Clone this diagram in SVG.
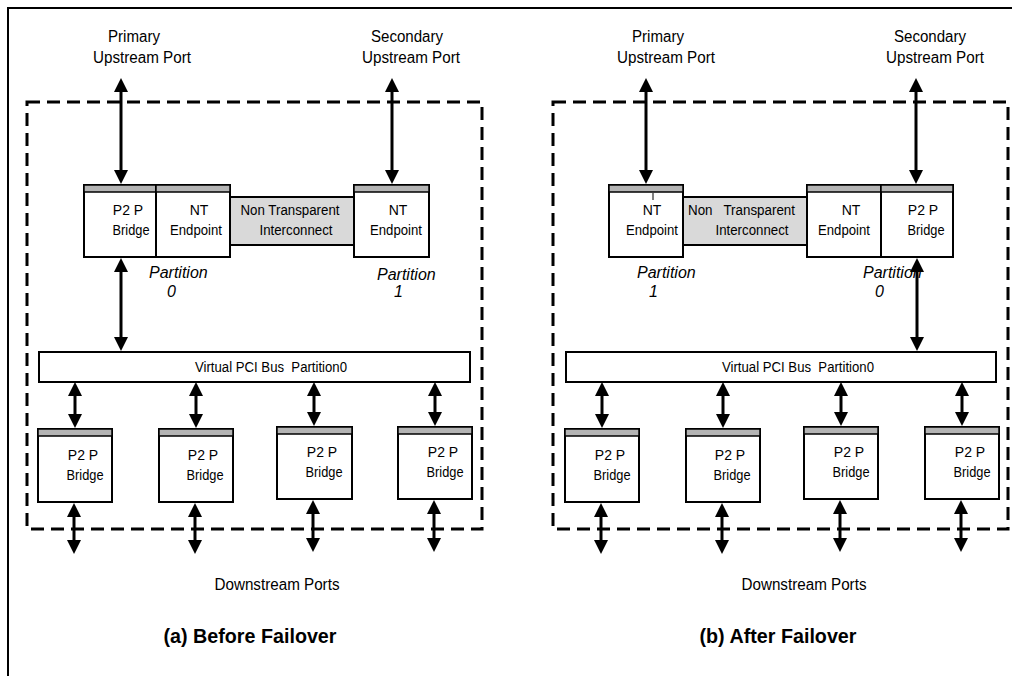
<svg xmlns="http://www.w3.org/2000/svg" width="1016" height="676" viewBox="0 0 1016 676">
<defs>
<marker id="ah" viewBox="0 0 14 14" refX="3" refY="7" markerWidth="14" markerHeight="14" markerUnits="userSpaceOnUse" orient="auto-start-reverse">
<path d="M0,0 L14,7 L0,14 z" fill="#000"/>
</marker>
<style>
.box{fill:#fff;stroke:#000;stroke-width:2}
.hdr{fill:#b4b4b4;stroke:#000;stroke-width:1.5}
.ic{fill:#d9d9d9;stroke:#000;stroke-width:2}
.frame{fill:none;stroke:#000;stroke-width:3;stroke-dasharray:13 7}
.arr{stroke:#000;stroke-width:3;fill:none;marker-start:url(#ah);marker-end:url(#ah)}
text{font-family:"Liberation Sans",Arial,sans-serif;fill:#000}
.t13{font-size:14px;text-anchor:middle}
.t15{font-size:16px;text-anchor:middle}
.it{font-size:16px;font-style:italic}
.ttl{font-size:20px;font-weight:bold;text-anchor:middle}
</style>
</defs>
<rect width="1016" height="676" fill="#fff"/>
<path d="M8,676 V8 H1012" fill="none" stroke="#000" stroke-width="2"/>

<g id="panel-a">
<rect class="frame" x="27" y="102" width="455" height="427"/>
<g id="a-label-primary"><text class="t15" x="134" y="42" textLength="52" lengthAdjust="spacingAndGlyphs">Primary</text><text class="t15" x="142" y="63" textLength="98" lengthAdjust="spacingAndGlyphs">Upstream Port</text></g>
<g id="a-label-secondary"><text class="t15" x="407" y="42" textLength="72" lengthAdjust="spacingAndGlyphs">Secondary</text><text class="t15" x="411" y="63" textLength="98" lengthAdjust="spacingAndGlyphs">Upstream Port</text></g>
<g id="a-p2p"><rect class="box" x="84" y="185" width="72" height="72"/><rect class="hdr" x="84" y="185" width="72" height="7"/><text class="t13" x="128" y="215">P2 P</text><text class="t13" x="131" y="235" textLength="37" lengthAdjust="spacingAndGlyphs">Bridge</text></g>
<g id="a-nt0"><rect class="box" x="156" y="185" width="74" height="72"/><rect class="hdr" x="156" y="185" width="74" height="7"/><text class="t13" x="199" y="215">NT</text><text class="t13" x="196" y="235" textLength="52" lengthAdjust="spacingAndGlyphs">Endpoint</text></g>
<g id="a-ntic"><rect class="ic" x="230" y="197" width="124" height="48"/><text class="t13" x="290" y="215" textLength="99" lengthAdjust="spacingAndGlyphs">Non Transparent</text><text class="t13" x="296" y="235" textLength="73" lengthAdjust="spacingAndGlyphs">Interconnect</text></g>
<g id="a-nt1"><rect class="box" x="354" y="185" width="75" height="72"/><rect class="hdr" x="354" y="185" width="75" height="7"/><text class="t13" x="398" y="215">NT</text><text class="t13" x="396" y="235" textLength="52" lengthAdjust="spacingAndGlyphs">Endpoint</text></g>
<g id="a-part0"><text class="it" x="149" y="278">Partition</text><text class="it" x="167" y="297">0</text></g>
<g id="a-part1"><text class="it" x="377" y="280">Partition</text><text class="it" x="394" y="297">1</text></g>
<g id="a-bus"><rect class="box" x="39" y="352" width="431" height="30"/><text class="t13" x="271" y="372" xml:space="preserve" textLength="152" lengthAdjust="spacingAndGlyphs">Virtual PCI Bus  Partition0</text></g>
<g id="a-br1"><rect class="box" x="38" y="429" width="74" height="73"/><rect class="hdr" x="38" y="429" width="74" height="7"/><text class="t13" x="83" y="460">P2 P</text><text class="t13" x="85" y="480" textLength="37" lengthAdjust="spacingAndGlyphs">Bridge</text></g>
<g id="a-br2"><rect class="box" x="159" y="429" width="74" height="73"/><rect class="hdr" x="159" y="429" width="74" height="7"/><text class="t13" x="203" y="460">P2 P</text><text class="t13" x="205" y="480" textLength="37" lengthAdjust="spacingAndGlyphs">Bridge</text></g>
<g id="a-br3"><rect class="box" x="277" y="427" width="75" height="72"/><rect class="hdr" x="277" y="427" width="75" height="7"/><text class="t13" x="322" y="457">P2 P</text><text class="t13" x="324" y="477" textLength="37" lengthAdjust="spacingAndGlyphs">Bridge</text></g>
<g id="a-br4"><rect class="box" x="398" y="427" width="74" height="72"/><rect class="hdr" x="398" y="427" width="74" height="7"/><text class="t13" x="443" y="457">P2 P</text><text class="t13" x="445" y="477" textLength="37" lengthAdjust="spacingAndGlyphs">Bridge</text></g>
<g id="a-downstream"><text class="t15" x="277" y="590" textLength="125" lengthAdjust="spacingAndGlyphs">Downstream Ports</text></g>
<g id="a-title"><text class="ttl" x="250" y="643" textLength="173" lengthAdjust="spacingAndGlyphs">(a) Before Failover</text></g>
</g>

<g id="panel-b">
<rect class="frame" x="553" y="102" width="455" height="427"/>
<g id="b-label-primary"><text class="t15" x="658" y="42" textLength="52" lengthAdjust="spacingAndGlyphs">Primary</text><text class="t15" x="666" y="63" textLength="98" lengthAdjust="spacingAndGlyphs">Upstream Port</text></g>
<g id="b-label-secondary"><text class="t15" x="930" y="42" textLength="72" lengthAdjust="spacingAndGlyphs">Secondary</text><text class="t15" x="935" y="63" textLength="98" lengthAdjust="spacingAndGlyphs">Upstream Port</text></g>
<g id="b-nt1"><rect class="box" x="609" y="185" width="74" height="72"/><rect class="hdr" x="609" y="185" width="74" height="7"/><line x1="653" y1="193" x2="653" y2="200" stroke="#000" stroke-width="1"/><text class="t13" x="652" y="215">NT</text><text class="t13" x="652" y="235" textLength="52" lengthAdjust="spacingAndGlyphs">Endpoint</text></g>
<g id="b-ntic"><rect class="ic" x="683" y="197" width="124" height="48"/><text class="t13" x="688" y="215" style="text-anchor:start" xml:space="preserve" textLength="107" lengthAdjust="spacingAndGlyphs">Non   Transparent</text><text class="t13" x="752" y="235" textLength="73" lengthAdjust="spacingAndGlyphs">Interconnect</text></g>
<g id="b-nt0"><rect class="box" x="807" y="185" width="74" height="72"/><rect class="hdr" x="807" y="185" width="74" height="7"/><text class="t13" x="851" y="215">NT</text><text class="t13" x="844" y="235" textLength="52" lengthAdjust="spacingAndGlyphs">Endpoint</text></g>
<g id="b-p2p"><rect class="box" x="881" y="185" width="72" height="72"/><rect class="hdr" x="881" y="185" width="72" height="7"/><text class="t13" x="923" y="215">P2 P</text><text class="t13" x="926" y="235" textLength="37" lengthAdjust="spacingAndGlyphs">Bridge</text></g>
<g id="b-part1"><text class="it" x="637" y="278">Partition</text><text class="it" x="649" y="297">1</text></g>
<g id="b-part0"><text class="it" x="863" y="278">Partition</text><text class="it" x="875" y="297">0</text></g>
<g id="b-bus"><rect class="box" x="566" y="352" width="430" height="30"/><text class="t13" x="798" y="372" xml:space="preserve" textLength="152" lengthAdjust="spacingAndGlyphs">Virtual PCI Bus  Partition0</text></g>
<g id="b-br1"><rect class="box" x="565" y="429" width="74" height="73"/><rect class="hdr" x="565" y="429" width="74" height="7"/><text class="t13" x="610" y="460">P2 P</text><text class="t13" x="612" y="480" textLength="37" lengthAdjust="spacingAndGlyphs">Bridge</text></g>
<g id="b-br2"><rect class="box" x="686" y="429" width="74" height="73"/><rect class="hdr" x="686" y="429" width="74" height="7"/><text class="t13" x="730" y="460">P2 P</text><text class="t13" x="732" y="480" textLength="37" lengthAdjust="spacingAndGlyphs">Bridge</text></g>
<g id="b-br3"><rect class="box" x="804" y="427" width="74" height="72"/><rect class="hdr" x="804" y="427" width="74" height="7"/><text class="t13" x="849" y="457">P2 P</text><text class="t13" x="851" y="477" textLength="37" lengthAdjust="spacingAndGlyphs">Bridge</text></g>
<g id="b-br4"><rect class="box" x="925" y="427" width="74" height="72"/><rect class="hdr" x="925" y="427" width="74" height="7"/><text class="t13" x="970" y="457">P2 P</text><text class="t13" x="972" y="477" textLength="37" lengthAdjust="spacingAndGlyphs">Bridge</text></g>
<g id="b-downstream"><text class="t15" x="804" y="590" textLength="125" lengthAdjust="spacingAndGlyphs">Downstream Ports</text></g>
<g id="b-title"><text class="ttl" x="778" y="643" textLength="157" lengthAdjust="spacingAndGlyphs">(b) After Failover</text></g>
</g>

<g id="connectors">
<line class="arr" x1="121" y1="89" x2="121" y2="173"/>
<line class="arr" x1="392" y1="89" x2="392" y2="173"/>
<line class="arr" x1="121" y1="269" x2="121" y2="340"/>
<line class="arr" x1="75" y1="393" x2="75" y2="417"/>
<line class="arr" x1="196" y1="393" x2="196" y2="417"/>
<line class="arr" x1="314" y1="393" x2="314" y2="415"/>
<line class="arr" x1="435" y1="393" x2="435" y2="415"/>
<line class="arr" x1="74" y1="514" x2="74" y2="543"/>
<line class="arr" x1="195" y1="514" x2="195" y2="543"/>
<line class="arr" x1="313" y1="511" x2="313" y2="541"/>
<line class="arr" x1="434" y1="511" x2="434" y2="541"/>
<line class="arr" x1="646" y1="89" x2="646" y2="173"/>
<line class="arr" x1="916" y1="89" x2="916" y2="173"/>
<line class="arr" x1="917" y1="269" x2="917" y2="340"/>
<line class="arr" x1="602" y1="393" x2="602" y2="417"/>
<line class="arr" x1="723" y1="393" x2="723" y2="417"/>
<line class="arr" x1="841" y1="393" x2="841" y2="415"/>
<line class="arr" x1="962" y1="393" x2="962" y2="415"/>
<line class="arr" x1="601" y1="514" x2="601" y2="543"/>
<line class="arr" x1="722" y1="514" x2="722" y2="543"/>
<line class="arr" x1="840" y1="511" x2="840" y2="541"/>
<line class="arr" x1="961" y1="511" x2="961" y2="541"/>
</g>
</svg>
